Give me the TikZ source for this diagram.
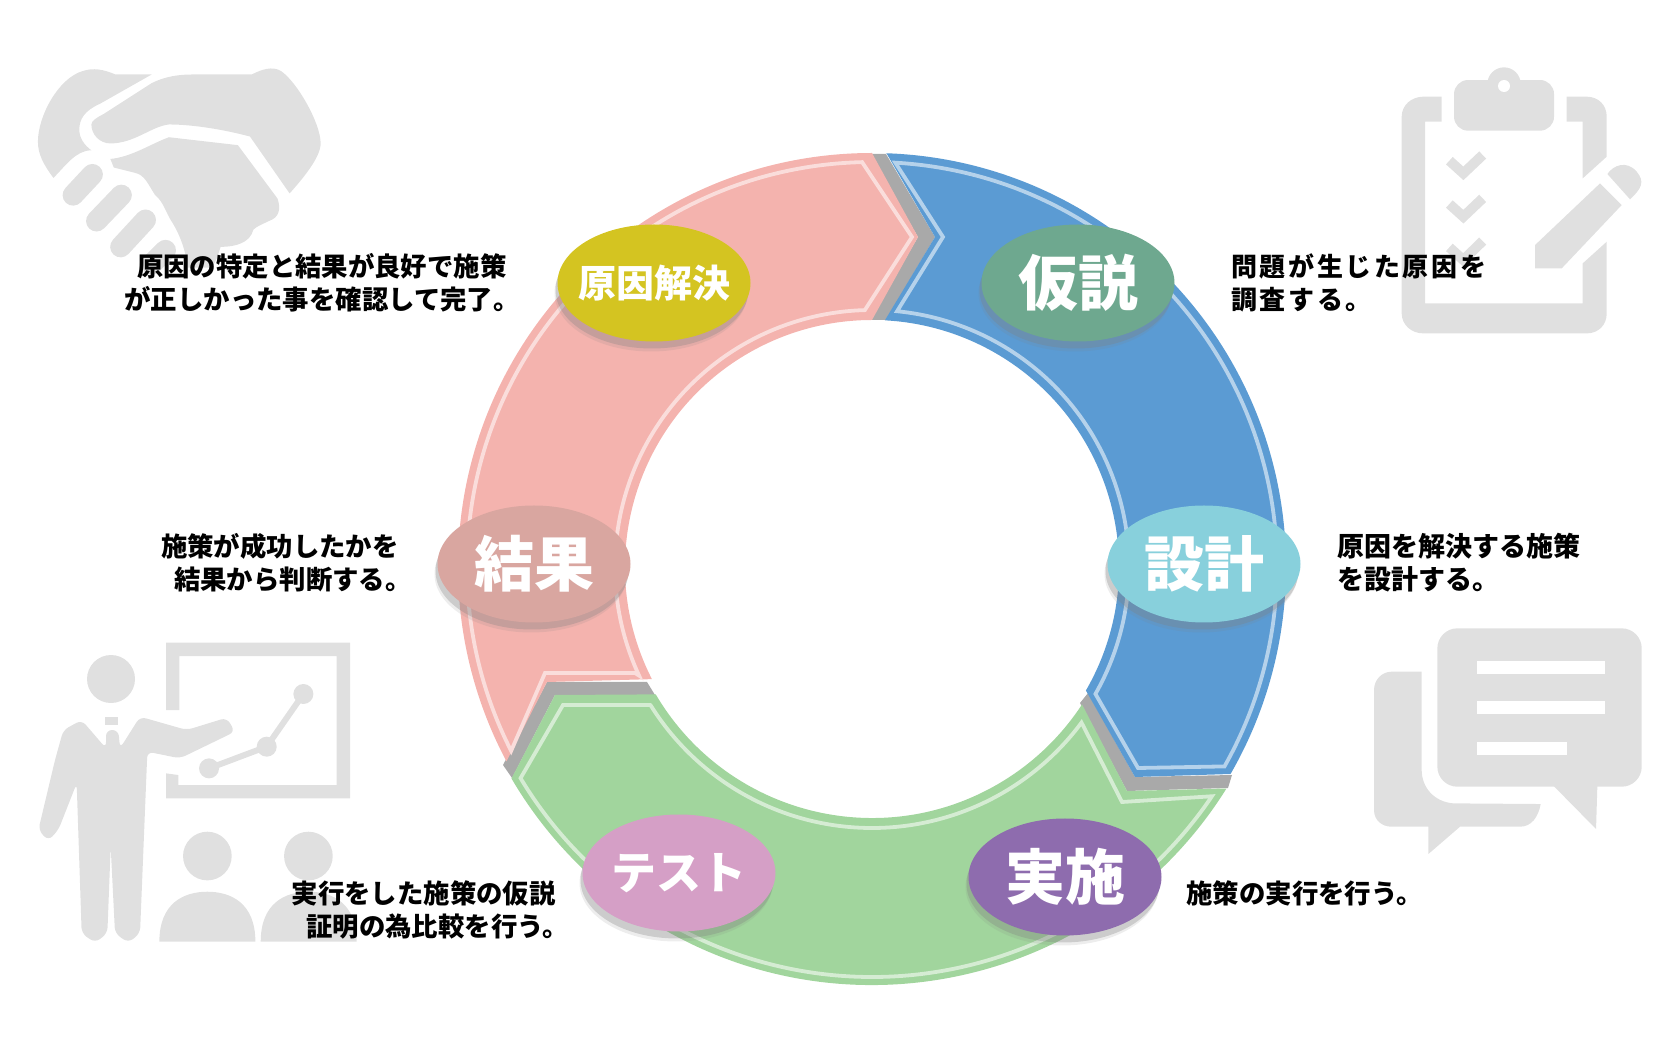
\documentclass[tikz,border=0pt]{standalone}
\usepackage{fontspec}
\setmainfont{Noto Sans CJK JP}
\newfontfamily\jpwide{Noto Sans CJK JP}[LetterSpace=10]
\usetikzlibrary{calc,shadows,shapes.geometric}
\definecolor{icongray}{HTML}{E0E0E0}
\definecolor{seamgray}{HTML}{A9A9A9}
\definecolor{bluering}{HTML}{5B9BD3}
\definecolor{pinkring}{HTML}{F4B3AE}
\definecolor{greenring}{HTML}{A1D59D}
\begin{document}
\begin{tikzpicture}[
    x=.5pt, y=-.5pt,
    ovalbox/.style={ellipse, minimum width=96.5pt, minimum height=58.5pt, inner sep=-8pt, text=white, font=\bfseries\fontsize{30}{32}\selectfont,
        drop shadow={shadow xshift=-1.5pt, shadow yshift=-5pt, opacity=.14}, drop shadow={shadow xshift=-1pt, shadow yshift=-3.5pt, opacity=.3}},
    desc/.style={text=black, inner sep=0pt, font=\bfseries\fontsize{13.2}{16.6}\selectfont},
    ringline/.style={line width=1.9pt, line join=miter},
    icon/.style={fill=icongray}
]
\useasboundingbox (0,0) rectangle (1678,1058);
\coordinate (ringc) at (872,567);

% Handshake
\begin{scope}[shift={(0,40)}, x=.1724pt, y=-.1724pt]
\fill[icon] (155,400) .. controls (125,360) and (110,330) .. (110,295) .. controls (110,220) and (170,110) .. (240,90) .. controls (270,80) and (300,85) .. (335,100) -- (440,100) -- (290,185) .. controls (245,205) and (230,230) .. (230,260) .. controls (230,285) and (245,305) .. (265,320) .. controls (220,320) and (190,365) .. (155,400) -- cycle;
\fill[icon] (265,245) .. controls (265,235) and (280,225) .. (300,215) -- (440,125) .. controls (480,105) and (520,100) .. (560,100) -- (730,100) .. controls (760,85) and (790,75) .. (815,90) .. controls (860,120) and (930,240) .. (930,300) .. controls (930,340) and (880,400) .. (840,445) -- (725,280) .. controls (650,260) and (560,245) .. (490,245) .. controls (440,250) and (390,300) .. (320,300) .. controls (290,300) and (265,275) .. (265,245) -- cycle;
\fill[icon] (490,282) -- (690,305) -- (805,460) .. controls (815,490) and (810,515) .. (780,525) .. controls (760,535) and (745,540) .. (735,550) .. controls (725,590) and (680,600) .. (640,600) .. controls (630,630) and (625,650) .. (610,660) -- (545,660) .. controls (540,620) and (525,570) .. (500,530) .. controls (480,500) and (475,470) .. (450,450) .. controls (430,420) and (420,390) .. (390,385) -- (330,370) -- (320,345) .. controls (380,340) and (440,300) .. (490,282) -- cycle;
\draw[icongray, line width=10.5pt, line cap=round] (212,450) -- (268,390);
\draw[icongray, line width=10.5pt, line cap=round] (280,525) -- (352,450);
\draw[icongray, line width=10.5pt, line cap=round] (350,600) -- (422,522);
\draw[icongray, line width=10.5pt, line cap=round] (440,650) -- (480,610);
\end{scope}

% Clipboard
\begin{scope}[shift={(1380,40)}, x=.1667pt, y=-.1667pt]
\fill[icon] (185,170) -- (185,245) -- (135,245) -- (135,790) -- (608,790) -- (608,670) -- (680,605) -- (680,820) .. controls (680,855) and (655,880) .. (620,880) -- (130,880) .. controls (95,880) and (65,855) .. (65,820) -- (65,230) .. controls (65,195) and (95,170) .. (130,170) -- cycle;
\fill[icon] (560,170) -- (620,170) .. controls (655,170) and (680,195) .. (680,230) -- (680,350) -- (608,415) -- (608,245) -- (560,245) -- cycle;
\fill[icon, rounded corners=7pt] (222,120) rectangle (522,272);
\fill[icon] (372,132) circle (50);
\fill[white] (372,138) circle (18);
\draw[icongray, line width=5pt] (208,362) -- (250,400) -- (308,345);
\draw[icongray, line width=5pt] (208,492) -- (250,530) -- (308,475);
\draw[icongray, line width=5pt] (208,622) -- (250,660) -- (308,603);
\fill[icon] (465,615) -- (660,430) -- (725,495) -- (545,685) -- (465,685) -- cycle;
\fill[icon] (682,402) .. controls (700,375) and (740,360) .. (770,395) .. controls (795,425) and (785,445) .. (750,478) -- cycle;
\end{scope}

% Presenter
\begin{scope}[shift={(20,620)}, x=.1667pt, y=-.1667pt]
\fill[icon] (438,270) -- (438,68) -- (990,68) -- (990,535) -- (438,535) -- (438,460) -- (475,465) -- (475,495) -- (950,495) -- (950,108) -- (478,108) -- (478,270) -- cycle;
\fill[icon] (273,177) circle (72);
\fill[icon] (255,290) rectangle (295,315);
\fill[icon, rounded corners=3pt] (185,300) -- (130,330) -- (105,420) -- (55,630) -- (85,662) -- (115,630) -- (170,490) -- (185,940) -- (225,968) -- (262,940) -- (272,680) -- (285,940) -- (325,968) -- (360,940) -- (382,395) -- (480,415) -- (645,335) -- (620,293) -- (500,330) -- (360,290) -- (300,385) -- (295,330) -- (258,330) -- (258,385) -- cycle;
\draw[icongray, line width=3pt] (567,445) -- (740,380) -- (850,222);
\fill[icon] (567,445) circle (30);
\fill[icon] (740,380) circle (30);
\fill[icon] (850,222) circle (30);
\fill[icon] (562,708) circle (73);
\fill[icon] (865,708) circle (73);
\fill[icon] (418,965) .. controls (418,850) and (490,815) .. (562,815) .. controls (634,815) and (706,850) .. (706,965) -- cycle;
\fill[icon] (722,965) .. controls (722,850) and (794,815) .. (866,815) .. controls (938,815) and (1010,850) .. (1010,965) -- cycle;
\end{scope}

% Speech bubbles
\begin{scope}[shift={(1350,610)}, x=.1667pt, y=-.1667pt]
\fill[icon, rounded corners=10pt] (262,55) rectangle (875,530);
\fill[icon] (608,525) -- (738,657) -- (742,525) -- cycle;
\fill[white] (380,152) rectangle (765,192);
\fill[white] (380,272) rectangle (765,312);
\fill[white] (380,395) rectangle (650,435);
\fill[icon] (215,185) -- (125,185) .. controls (95,185) and (72,210) .. (72,240) -- (72,600) .. controls (72,630) and (95,650) .. (125,650) -- (235,650) -- (235,732) -- (330,650) -- (510,650) .. controls (545,650) and (565,620) .. (572,582) -- (310,580) .. controls (250,575) and (215,530) .. (215,480) -- cycle;
\end{scope}

% Ring segments
\fill[seamgray] (870,154) -- (886,154) -- (935,237) -- (886,320) -- (870,320) -- (918,237) -- cycle;
\fill[seamgray] (1088,693) -- (1135,777) -- (1232,775) -- (1228,788) -- (1127,791) -- (1080,703) -- cycle;
\fill[seamgray] (647,682) -- (547,682) -- (503,765) -- (512,778) -- (555,695) -- (655,695) -- cycle;
\fill[pinkring] ($(ringc)+(-90:414)$) arc[start angle=-90, end angle=-208, radius=414] -- (547,682) -- ($(ringc)+(153:247)$) arc[start angle=153, end angle=270, radius=247] -- (918,237) -- cycle;
\fill[bluering] ($(ringc)+(-88:414)$) arc[start angle=-88, end angle=30, radius=414] -- (1135,777) -- ($(ringc)+(30:247)$) arc[start angle=30, end angle=-87, radius=247] -- (935,237) -- cycle;
\fill[greenring] ($(ringc)+(32:418)$) arc[start angle=32, end angle=149.6, radius=418] -- (555,695) -- ($(ringc)+(149.5:251)$) arc[start angle=149.5, end angle=33.2, radius=251] -- (1127,791) -- cycle;

% Ring inner lines
\draw[ringline, color=pinkring!45!white] ($(ringc)+(-91.4:405)$) arc[start angle=-91.4, end angle=-207, radius=405] -- (545,673) -- (635,673) -- ($(ringc)+(155:257)$) arc[start angle=155, end angle=268.4, radius=257] -- (912,237) -- cycle;
\draw[ringline, color=bluering!45!white] ($(ringc)+(-86.7:405)$) arc[start angle=-86.7, end angle=29.5, radius=405] -- (1138,768) -- ($(ringc)+(29.6:257)$) arc[start angle=29.6, end angle=-84.4, radius=257] -- (943,237) -- cycle;
\draw[ringline, color=greenring!45!white] ($(ringc)+(34:410)$) arc[start angle=34, end angle=149, radius=410] -- (563,705) -- (650,705) -- ($(ringc)+(148:261)$) arc[start angle=148, end angle=36.6, radius=261] -- (1122,802) -- cycle;

% Step labels
\node[ovalbox, fill={rgb,255:red,110;green,168;blue,143}] (kasetsu) at (1078,283) {仮説};
\node[ovalbox, fill={rgb,255:red,136;green,208;blue,220}] (sekkei) at (1204,564) {設計};
\node[ovalbox, fill={rgb,255:red,142;green,108;blue,174}] (jisshi) at (1065,877) {実施};
\node[ovalbox, fill={rgb,255:red,213;green,159;blue,198}, font=\bfseries\fontsize{22.5}{24}\selectfont] (test) at (679,873) {テスト};
\node[ovalbox, fill={rgb,255:red,217;green,166;blue,160}] (kekka) at (534,564) {結果};
\node[ovalbox, fill={rgb,255:red,212;green,196;blue,33}, font=\bfseries\fontsize{19}{22}\selectfont] (kaiketsu) at (654,283) {原因解決};

% Descriptions
\node[desc, anchor=east, align=right] (kaiketsutext) at (507,283) {原因の特定と結果が良好で施策\\が正しかった事を確認して完了。\hspace*{-.5em}};
\node[desc, anchor=west, align=left, font=\bfseries\fontsize{13}{16.6}\jpwide] (kasetsutext) at (1231,283) {問題が生じた原因を\\調査する。};
\node[desc, anchor=west, align=left, font=\bfseries\fontsize{13.5}{16.6}\selectfont] (sekkeitext) at (1337,563) {原因を解決する施策\\を設計する。};
\node[desc, anchor=east, align=right] (kekkatext) at (399,563) {施策が成功したかを\\結果から判断する。\hspace*{-.5em}};
\node[desc, anchor=east, align=right] (testtext) at (556,910) {実行をした施策の仮説\\証明の為比較を行う。\hspace*{-.5em}};
\node[desc, anchor=west] (jisshitext) at (1186,893) {施策の実行を行う。};
\end{tikzpicture}
\end{document}
